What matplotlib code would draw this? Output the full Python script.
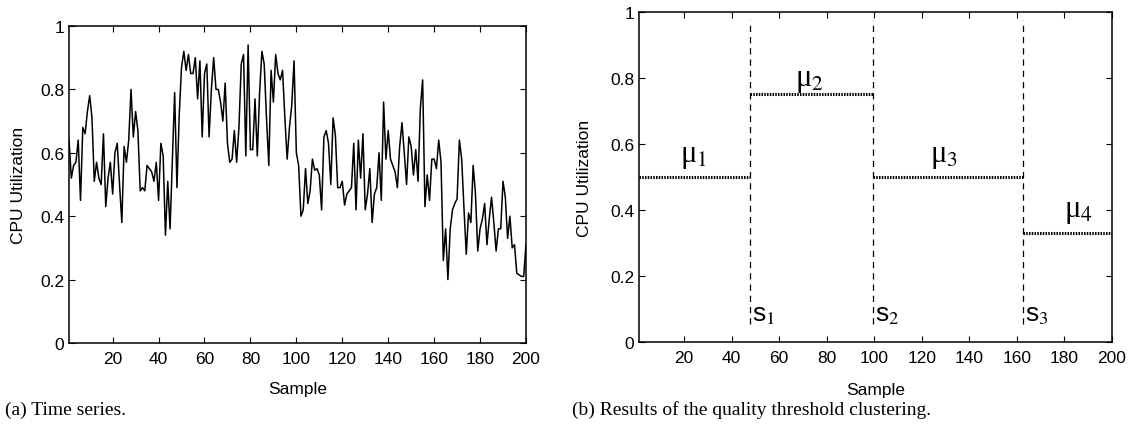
import numpy as np
import matplotlib.pyplot as plt

plt.rcParams['font.family'] = ['Liberation Sans', 'DejaVu Sans']
plt.rcParams['mathtext.fontset'] = 'stix'

# CPU utilization per sample
cpu = [0.64, 0.52, 0.56, 0.57, 0.64, 0.45, 0.68, 0.66, 0.73, 0.78,
       0.71, 0.51, 0.57, 0.52, 0.50, 0.66, 0.43, 0.52, 0.57, 0.47,
       0.60, 0.63, 0.50, 0.38, 0.62, 0.57, 0.64, 0.80, 0.65, 0.73,
       0.67, 0.48, 0.49, 0.48, 0.56, 0.55, 0.54, 0.51, 0.57, 0.45,
       0.63, 0.59, 0.34, 0.51, 0.36, 0.58, 0.79, 0.49, 0.72, 0.87,
       0.92, 0.86, 0.91, 0.85, 0.85, 0.90, 0.77, 0.89, 0.65, 0.85,
       0.88, 0.65, 0.80, 0.90, 0.80, 0.80, 0.76, 0.70, 0.82, 0.63,
       0.57, 0.58, 0.67, 0.57, 0.68, 0.88, 0.91, 0.59, 0.94, 0.61,
       0.61, 0.77, 0.59, 0.79, 0.92, 0.88, 0.71, 0.56, 0.86, 0.76,
       0.91, 0.85, 0.83, 0.86, 0.71, 0.58, 0.68, 0.75, 0.89, 0.60,
       0.56, 0.40, 0.42, 0.55, 0.44, 0.48, 0.58, 0.545, 0.55, 0.53,
       0.42, 0.65, 0.67, 0.63, 0.50, 0.71, 0.655, 0.49, 0.49, 0.51,
       0.435, 0.47, 0.48, 0.49, 0.63, 0.42, 0.64, 0.52, 0.66, 0.42,
       0.47, 0.55, 0.38, 0.47, 0.49, 0.60, 0.45, 0.76, 0.58, 0.67,
       0.58, 0.56, 0.54, 0.49, 0.62, 0.695, 0.60, 0.50, 0.65, 0.62,
       0.53, 0.61, 0.51, 0.74, 0.83, 0.43, 0.53, 0.45, 0.58, 0.58,
       0.55, 0.64, 0.57, 0.26, 0.36, 0.20, 0.36, 0.42, 0.44, 0.455,
       0.64, 0.58, 0.425, 0.28, 0.41, 0.38, 0.56, 0.47, 0.29, 0.36,
       0.39, 0.44, 0.31, 0.39, 0.46, 0.38, 0.29, 0.36, 0.36, 0.51,
       0.46, 0.33, 0.40, 0.30, 0.31, 0.22, 0.215, 0.21, 0.21, 0.31]
samples = np.arange(1, len(cpu) + 1)

# clustering result (panel b)
bounds = [1, 47.5, 99.5, 162.5, 200]
means = [0.5, 0.75, 0.5, 0.33]
mu_labels = ['μ$_1$', 'μ$_2$', 'μ$_3$', 'μ$_4$']
mu_pos = [(24, 0.565), (72.7, 0.796), (129.5, 0.565), (186, 0.398)]
s_labels = ['s$_1$', 's$_2$', 's$_3$']

xticks = [20, 40, 60, 80, 100, 120, 140, 160, 180, 200]
yticks = [0, 0.2, 0.4, 0.6, 0.8, 1]
ytick_labels = ['0', '0.2', '0.4', '0.6', '0.8', '1']

fig = plt.figure(figsize=(11.37, 4.31), dpi=100)
ax1 = fig.add_axes([0.0607, 0.2019, 0.4019, 0.7355])
ax2 = fig.add_axes([0.5620, 0.2042, 0.4160, 0.7657])

ax1.plot(samples, cpu, color='black', lw=1.1)

for i in range(len(means)):
    ax2.plot([bounds[i], bounds[i + 1]], [means[i], means[i]], color='black',
             lw=2.2, linestyle=(0, (0.5, 0.4)))
    ax2.text(mu_pos[i][0], mu_pos[i][1], mu_labels[i], fontsize=22,
             family='Liberation Serif', ha='center', va='center')
for i in range(1, len(bounds) - 1):
    ax2.plot([bounds[i], bounds[i]], [0.055, 0.975], color='black', lw=0.9,
             linestyle=(0, (5, 4)))
    ax2.text(bounds[i] + 1.0, 0.086, s_labels[i - 1], fontsize=19,
             ha='left', va='center')

for ax in (ax1, ax2):
    ax.set_xlim(1, 200)
    ax.set_ylim(0, 1)
    ax.set_xticks(xticks)
    ax.set_yticks(yticks)
    ax.set_yticklabels(ytick_labels)
    ax.tick_params(direction='in', top=True, right=True, length=4,
                   width=0.8, labelsize=12.5)
    ax.tick_params(axis='x', pad=6)
    for sp in ax.spines.values():
        sp.set_linewidth(1.1)
    ax.set_xlabel('Sample', fontsize=12.5)
    ax.set_ylabel('CPU Utilization', fontsize=12.5)
    ax.xaxis.set_label_coords(0.5, -0.12)
ax1.yaxis.set_label_coords(-0.095, 0.5)
ax2.yaxis.set_label_coords(-0.1, 0.5)

fig.text(0.004, 1 - 410 / 431, '(a) Time series.', fontsize=14,
         family='Liberation Serif', va='center')
fig.text(0.503, 1 - 410 / 431, '(b) Results of the quality threshold clustering.',
         fontsize=14, family='Liberation Serif', va='center')

fig.savefig('out.png', dpi=100)
